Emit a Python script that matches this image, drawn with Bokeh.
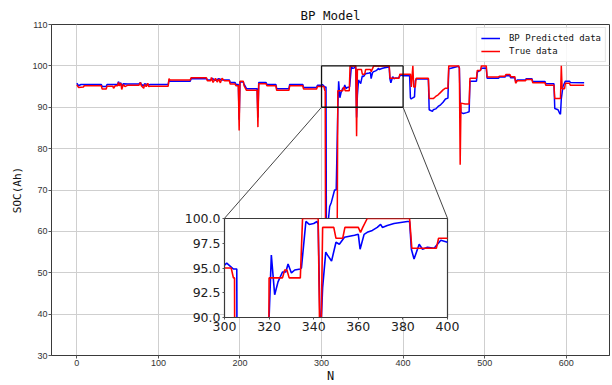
import numpy as np
from bokeh.plotting import figure
from bokeh.models import Range1d, FixedTicker, PrintfTickFormatter, Column
from bokeh.embed import file_html
from bokeh.resources import INLINE

# ---------------- data ----------------
true_n = [0, 2, 8, 9, 30, 31, 36, 37, 44, 45, 47, 50, 51, 52, 54, 55, 57, 59, 62, 76, 78, 79, 82, 83, 85, 87, 88, 90,
          112, 113, 114, 139, 140, 159, 160, 164, 165, 167, 170, 172, 174, 176, 178, 181, 187, 188, 194, 195, 198,
          199, 200, 204, 205, 208, 221, 222, 223, 232, 233, 244, 245, 260, 261, 277, 278, 294, 295, 303, 304, 304.5,
          305, 319, 320, 326, 327, 328, 329, 334, 335, 342, 343, 344, 349, 350, 353, 354, 360, 361, 362, 364, 383,
          384, 395, 396, 409, 410, 412, 413, 415, 416, 431, 432, 437, 440, 443, 446, 449, 452, 455, 456, 468, 469,
          470, 471, 476, 481, 482, 490, 491, 495, 496, 502, 503, 517, 518, 525, 526, 531, 532, 537, 538, 540, 550,
          551, 558, 559, 574, 575, 585, 586, 593, 594, 595, 598, 599, 604, 605, 622]
true_soc = [95.4, 94.8, 94.9, 95.2, 95.2, 94.4, 94.4, 95.1, 95.1, 94.6, 95.2, 95.2, 96.0, 95.2, 95.8, 94.3, 95.5, 95.0,
            95.3, 95.3, 96.0, 95.2, 94.6, 95.5, 95.0, 95.8, 95.0, 95.1,
            95.1, 96.9, 96.6, 96.6, 97.1, 97.1, 96.4, 96.4, 97.2, 96.0, 97.0, 96.1, 96.8, 95.9, 97.0, 96.4, 96.4, 95.6,
            95.6, 95.2, 95.2, 84.4, 96.3, 96.3, 95.2, 94.1, 94.1, 85.2, 95.7, 95.7, 95.2, 95.2, 94.1, 94.1, 95.2, 95.2,
            94.4, 94.4, 95.0, 95.0, 94.0, 94.0,
            50.0, 50.0, 94.0, 94.0, 94.8, 94.8, 94.0, 94.0, 100.0, 100.0, 83.0, 99.1, 99.1, 98.0, 98.0, 99.1, 99.1,
            98.6, 99.1, 100.0, 100.0,
            97.0, 97.0, 98.0, 98.0, 94.9, 100.0, 94.9, 94.9, 97.0, 97.0, 92.1, 92.1, 92.6, 93.0, 93.6, 94.2, 94.6,
            94.6, 100.0, 100.0, 99.5,
            76.1, 91.0, 90.8, 90.8, 97.0, 97.0, 98.9, 98.9, 100.0, 100.0, 97.3, 97.3, 97.5, 97.5, 97.9, 97.9, 97.4,
            97.4, 95.8, 96.4, 96.4,
            96.7, 96.7, 95.9, 95.9, 95.3, 95.3, 92.1, 92.1, 100.0, 94.5, 94.5, 95.8, 95.8, 95.3, 95.3]

pred_n = [0, 2, 5, 30, 31, 36, 37, 50, 51, 52, 54, 55, 57, 62, 76, 78, 79, 82, 83, 88, 90,
          112, 113, 114, 139, 140, 159, 160, 164, 166, 170, 174, 178, 187, 188, 194, 195, 198, 199, 200, 204, 205,
          208, 221, 222, 223, 232, 233, 244, 245, 260, 261, 277, 278, 294, 295, 300, 301, 302, 304, 305.5,
          306, 308, 310, 312, 314, 316, 318, 319.5, 320, 321, 322.5, 324, 326, 327.5, 328.5, 329.5, 330, 331.5, 334,
          334.5, 336.5, 338, 340, 341.5, 342, 343, 344, 345.4, 346.2, 348, 350, 351.5, 353.8, 358.3, 360, 360.8,
          362.6, 364, 366.3, 368.5, 370, 370.8, 373, 376, 379, 382, 383, 383.8, 385, 387.3, 388.8, 391, 394, 397,
          400, 408, 409, 410, 412, 414, 415, 416, 431, 432, 436, 437, 440, 443, 446, 449, 452, 455, 456, 460, 468,
          469, 470, 471, 474, 478, 481, 482, 490, 491, 495, 496, 502, 503, 517, 518, 525, 526, 531, 532, 537, 538,
          540, 550, 551, 558, 559, 574, 575, 585, 586, 590, 592, 593, 594, 596, 599, 604, 605, 622]
pred_soc = [95.8, 95.2, 95.5, 95.5, 95.0, 95.0, 95.5, 95.5, 96.2, 95.6, 95.9, 95.0, 95.7, 95.6, 95.6, 96.0, 95.5, 95.2,
            95.7, 95.4, 95.5,
            95.5, 96.6, 96.3, 96.3, 96.9, 96.9, 96.6, 96.6, 97.0, 96.5, 96.9, 96.6, 96.6, 96.0, 96.0, 95.5, 95.5, 87.0,
            96.1, 96.1, 95.6,
            94.5, 94.5, 87.5, 96.0, 96.0, 95.5, 95.5, 94.5, 94.5, 95.5, 95.5, 94.8, 94.8, 95.3, 95.3, 95.5, 95.3, 94.9,
            94.9,
            56.0, 62.0, 66.0, 67.0, 68.5, 70.0, 70.0, 85.0, 90.0, 96.3, 92.3, 93.6, 94.6, 94.6, 95.4, 94.8, 94.5, 94.8,
            94.9,
            95.0, 99.7, 99.4, 99.5, 99.7, 99.4, 87.5, 93.0, 96.6, 96.3, 95.7, 97.6, 97.4, 98.1, 98.3, 98.4, 96.9,
            98.4, 98.6, 98.8, 99.1, 99.4, 99.1, 99.3, 99.5, 99.6, 99.7, 99.7, 96.9, 95.9, 97.4, 96.9, 97.1, 97.0, 97.8,
            97.6, 97.6, 92.3, 92.0, 92.3, 92.5, 96.4, 96.8, 96.8, 89.4, 89.0, 89.4, 89.6, 90.2, 90.6, 91.2, 92.0, 92.2,
            99.3, 99.5, 99.9,
            99.5, 91.0, 88.7, 88.5, 88.7, 88.9, 96.3, 96.3, 98.5, 99.0, 99.4, 99.5, 97.0, 97.0, 97.3, 97.3, 97.6, 97.6,
            97.1, 97.1, 96.2,
            96.6, 96.6, 96.9, 96.9, 96.2, 96.2, 95.7, 95.7, 89.7, 89.4, 88.5, 88.3, 92.0, 95.0, 96.3, 96.3, 96.0, 95.9]

x_ticks = [0, 100, 200, 300, 400, 500, 600]
y_ticks = [30, 40, 50, 60, 70, 80, 90, 100, 110]
x_limits = (-31.1, 653.1)
y_limits = (30, 110)

zoom_x = (300, 400)
zoom_y = (90, 100)
inset_x_ticks = [300, 320, 340, 360, 380, 400]
inset_y_ticks = [90.0, 92.5, 95.0, 97.5, 100.0]

title_text = "BP Model"
x_label = "N"
y_label = "SOC(Ah)"
pred_label = "BP Predicted data"
true_label = "True data"

# ---------------- layout constants ----------------
W, H = 612, 385
ML, MR, MT, MB = 51, 3, 24, 30
frame_w = W - ML - MR
frame_h = H - MT - MB
# inset frame position as fractions of the main frame (left, right, top, bottom measured from top)
fx0, fx1, fy0, fy1 = 0.310, 0.7097, 0.5856, 0.886

MONO = "DejaVu Sans Mono"
BLUE = "#0000ff"
RED = "#ff0000"
GRID = "#cfcfcf"
FRAME = "#3a3a3a"

p = figure(width=W, height=H, x_range=Range1d(*x_limits), y_range=Range1d(*y_limits),
           output_backend="svg", toolbar_location=None,
           min_border_left=ML, min_border_right=MR, min_border_top=MT, min_border_bottom=MB,
           background_fill_color="white", border_fill_color="white")
p.title.text = title_text
p.title.align = "center"
p.title.text_font = MONO
p.title.text_font_size = "12.5px"
p.title.text_font_style = "normal"
p.title.text_color = "#111111"
p.title.standoff = 3
p.title.offset = 0

p.outline_line_color = FRAME
p.outline_line_width = 1
p.xaxis.ticker = FixedTicker(ticks=x_ticks)
p.yaxis.ticker = FixedTicker(ticks=y_ticks)
for ax in (p.xaxis[0], p.yaxis[0]):
    ax.major_label_text_font = "Liberation Sans"
    ax.major_label_text_font_size = "9px"
    ax.major_label_text_color = "#333333"
    ax.axis_line_color = FRAME
    ax.major_tick_line_color = "#555555"
    ax.major_tick_in = 0
    ax.major_tick_out = 3
    ax.minor_tick_line_color = None
    ax.major_label_standoff = 1
    ax.axis_label_text_font = MONO
    ax.axis_label_text_font_style = "normal"
    ax.axis_label_text_color = "#111111"
p.xaxis.axis_label = x_label
p.xaxis.axis_label_text_font_size = "12px"
p.xaxis.axis_label_standoff = 0
p.yaxis.axis_label = y_label
p.yaxis.axis_label_text_font_size = "11px"
p.yaxis.axis_label_standoff = 5
p.xgrid.grid_line_color = GRID
p.ygrid.grid_line_color = GRID
p.xgrid.ticker = FixedTicker(ticks=x_ticks)
p.ygrid.ticker = FixedTicker(ticks=y_ticks)

p.line(pred_n, pred_soc, line_color=BLUE, line_width=1.5, legend_label=pred_label)
p.line(true_n, true_soc, line_color=RED, line_width=1.5, legend_label=true_label)

# zoom rectangle
p.quad(left=[zoom_x[0]], right=[zoom_x[1]], bottom=[zoom_y[0]], top=[zoom_y[1]],
       fill_alpha=0, line_color="#111111", line_width=1.3)

# connector lines: from the zoom box's lower corners to the inset's upper corners
xs = x_limits[1] - x_limits[0]
ys = y_limits[1] - y_limits[0]
ix_left = x_limits[0] + fx0 * xs
ix_right = x_limits[0] + fx1 * xs
iy_top = y_limits[1] - fy0 * ys
p.segment(x0=[zoom_x[0], zoom_x[1]], y0=[zoom_y[0], zoom_y[0]],
          x1=[ix_left, ix_right], y1=[iy_top, iy_top], line_color="#444444", line_width=1)

lg = p.legend[0]
lg.location = "top_right"
lg.label_text_font = MONO
lg.label_text_font_size = "9px"
lg.label_text_color = "#111111"
lg.glyph_width = 19
lg.glyph_height = 12
lg.label_height = 12
lg.label_standoff = 9
lg.spacing = 1
lg.padding = 4
lg.margin = 3
lg.border_line_color = "#cccccc"
lg.border_line_width = 1
lg.background_fill_alpha = 0.85

# ---------------- inset ----------------
IL, IR, IT, IB = 56, 18, 12, 24
in_w = round((fx1 - fx0) * frame_w)
in_h = round((fy1 - fy0) * frame_h)
inset_left = ML + fx0 * frame_w - IL
inset_top = MT + fy0 * frame_h - IT

ins = figure(width=in_w + IL + IR, height=in_h + IT + IB,
             x_range=Range1d(*zoom_x), y_range=Range1d(*zoom_y),
             output_backend="svg", toolbar_location=None,
             min_border_left=IL, min_border_right=IR, min_border_top=IT, min_border_bottom=IB,
             background_fill_color="white", border_fill_alpha=0)
ins.outline_line_color = FRAME
ins.outline_line_width = 1.2
ins.xaxis.ticker = FixedTicker(ticks=inset_x_ticks)
ins.yaxis.ticker = FixedTicker(ticks=inset_y_ticks)
ins.yaxis.formatter = PrintfTickFormatter(format="%.1f")
for ax in (ins.xaxis[0], ins.yaxis[0]):
    ax.major_label_text_font = "DejaVu Sans"
    ax.major_label_text_font_size = "12.5px"
    ax.major_label_text_color = "#222222"
    ax.axis_line_color = FRAME
    ax.major_tick_line_color = "#555555"
    ax.major_tick_in = 0
    ax.major_tick_out = 2
    ax.minor_tick_line_color = None
    ax.major_label_standoff = 2
ins.xgrid.grid_line_color = None
ins.ygrid.grid_line_color = None
ins.line(pred_n, pred_soc, line_color=BLUE, line_width=1.6)
ins.line(true_n, true_soc, line_color=RED, line_width=1.6)

# the inset sits in its own wrapper so its borders are not aligned with the main plot's
inset_box = Column(children=[ins],
                   styles={"position": "absolute", "left": f"{inset_left:.0f}px", "top": f"{inset_top:.0f}px"})
layout = Column(children=[p, inset_box], styles={"position": "relative"})

with open("out.html", "w") as f:
    f.write(file_html(layout, INLINE))
